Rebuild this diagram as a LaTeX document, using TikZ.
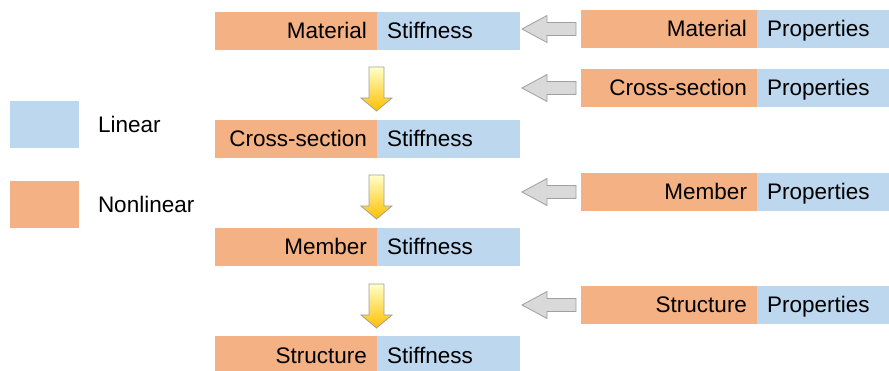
\documentclass[tikz,border=0pt]{standalone}
\usepackage{fontspec}
\setmainfont{Liberation Sans}
\definecolor{nlorange}{HTML}{F4B183}
\definecolor{linblue}{HTML}{BDD7EE}
\definecolor{arrowgray}{HTML}{D9D9D9}
\definecolor{arrowedge}{HTML}{A0A0A0}
\definecolor{gold}{HTML}{FFC000}
\definecolor{paleyellow}{HTML}{FFFFC8}
\begin{document}
\begin{tikzpicture}[x=1pt,y=-1pt,
  every node/.style={font=\fontsize{22.5}{26}\selectfont, inner sep=0pt, outer sep=0pt},
  part/.style={rectangle, minimum height=38pt, anchor=north west, text height=16pt, text depth=0pt},
  nonlin/.style={part, fill=nlorange, minimum width=#1pt, text width=#1pt-20pt, align=right},
  lin/.style={part, fill=linblue, minimum width=#1pt, text width=#1pt-20pt, align=left},
  legendbox/.style={rectangle, anchor=north west, minimum width=69pt, minimum height=47pt},
  legendtext/.style={anchor=west, text height=16pt, text depth=0pt},
  grayblock/.style={fill=arrowgray, draw=arrowedge, line width=0.8pt, line join=miter},
  yellowblock/.style={top color=paleyellow, bottom color=gold, draw=arrowedge, line width=0.8pt, line join=miter}
]
\useasboundingbox (0,0) rectangle (889,371);

% legend
\node[legendbox, fill=linblue] (leglin) at (10,101) {};
\node[legendtext] (leglintext) at (98,125) {Linear};
\node[legendbox, fill=nlorange] (legnl) at (10,181) {};
\node[legendtext] (legnltext) at (98,205) {Nonlinear};

% stiffness chain
\node[nonlin=162] (matS) at (215,12) {Material};
\node[lin=143] (matSL) at (377,12) {Stiffness};
\node[nonlin=162] (secS) at (215,120) {Cross-section};
\node[lin=143] (secSL) at (377,120) {Stiffness};
\node[nonlin=162] (memS) at (215,228) {Member};
\node[lin=143] (memSL) at (377,228) {Stiffness};
\node[nonlin=162] (strS) at (215,336) {Structure};
\node[lin=143] (strSL) at (377,336) {Stiffness};

% properties
\node[nonlin=176] (matP) at (581,10) {Material};
\node[lin=132] (matPL) at (757,10) {Properties};
\node[nonlin=176] (secP) at (581,69) {Cross-section};
\node[lin=132] (secPL) at (757,69) {Properties};
\node[nonlin=176] (memP) at (581,173) {Member};
\node[lin=132] (memPL) at (757,173) {Properties};
\node[nonlin=176] (strP) at (581,286) {Structure};
\node[lin=132] (strPL) at (757,286) {Properties};

% gray block arrows pointing left (tip x = 522)
\newcommand\leftblock[1]{%
  \draw[grayblock] (576,#1-6.5) -- (547,#1-6.5) -- (547,#1-13.5) -- (522,#1)
    -- (547,#1+13.5) -- (547,#1+6.5) -- (576,#1+6.5) -- cycle;}
\leftblock{29}
\leftblock{88}
\leftblock{192}
\leftblock{305}

% yellow block arrows pointing down (centred on x = 376.5)
\newcommand\downblock[1]{%
  \draw[yellowblock] (369,#1) -- (384,#1) -- (384,#1+31) -- (392,#1+31) -- (376.5,#1+44)
    -- (361,#1+31) -- (369,#1+31) -- cycle;}
\downblock{67}
\downblock{175}
\downblock{284}
\end{tikzpicture}
\end{document}
